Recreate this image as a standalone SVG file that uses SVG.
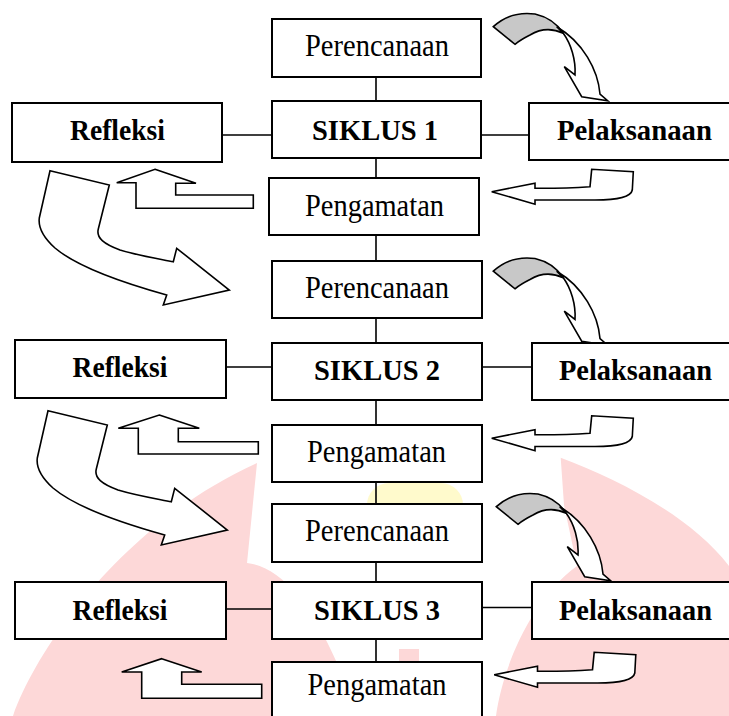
<svg xmlns="http://www.w3.org/2000/svg" xmlns:xlink="http://www.w3.org/1999/xlink" width="729" height="716" viewBox="0 0 729 716">
<style>
.box{fill:#fff;stroke:#000;stroke-width:2}
.t{font-family:"Liberation Serif","Times New Roman",serif;font-size:31px;fill:#000;text-anchor:middle}
.b{font-weight:bold;font-size:30px}
.ln{stroke:#000;stroke-width:1.6;fill:none}
.ar{fill:#fff;stroke:#000;stroke-width:1.6;stroke-linejoin:miter}
.gr{fill:#c8c8c8;stroke:#000;stroke-width:1.6;stroke-linejoin:miter}
.pk{fill:#fdd8d8}
.ye{fill:#fffacc}
</style>
<defs>
<g id="curl">
<path class="gr" d="M493.3,26.7 C505,16 520,12 535,14 C548,17 558,25 563.3,33.3 C552,28 540,29 530,35 C524,38 519,41 515,44.3 Z"/>
<path class="ar" d="M556.7,26.7 C583,42 598,70 600,94 L607.7,100.7 L581.7,96.7 L564.3,66.7 L575,75 C576,60 571,44 563.3,33.3 Z"/>
</g>
<path id="uturn" class="ar" d="M491.7,191.7 L535,183.3 L535,188.3 Q565,188.5 590,186.7 L591.7,169.3 L633.3,171.7 L632.3,190 C631,197 618,200 595,200 L535,200 L535,204.3 Z"/>
<path id="big" class="ar" d="M50,170.7 L109.3,185 L98.3,229 C96,238 104,244 120,250 C140,256 160,259 173.3,261.7 L176.7,248.3 L229.3,290 L163.3,305 L166.7,295 C120,282 75,265 55,248 C44,238 38,228 39.3,218 Z"/>
</defs>
<rect width="729" height="716" fill="#fff"/>
<g id="watermark">
<path class="pk" d="M13,716 C40,640 130,520 257,463 L247,563 C280,566 312,605 337,663 L345,716 Z"/>
<path class="pk" d="M560.7,457.7 C615,478 690,515 729,566 L729,716 L496,716 C502,670 530,600 577,566 L564,505 Z"/>
<rect class="pk" x="399" y="649" width="20" height="30"/>
<rect class="ye" x="367" y="483" width="96" height="60" rx="22"/>
</g>
<g id="connectors">
<path class="ln" d="M376,77V101 M376,158V178 M376,235V261 M376,318V343 M376,400V425 M376,482V504 M376,562V582 M376,639V662"/>
<path class="ln" d="M222,135H272 M481,135H529 M226,367H272 M482,367H532 M226,609H272 M482,607.5H532"/>
<use xlink:href="#curl"/>
<use xlink:href="#curl" transform="translate(0,244.5)"/>
<use xlink:href="#curl" transform="translate(3,480)"/>
<use xlink:href="#uturn"/>
<use xlink:href="#uturn" transform="translate(0,246.5)"/>
<use xlink:href="#uturn" transform="translate(2.5,483)"/>
<use xlink:href="#big"/>
<use xlink:href="#big" transform="translate(-2,240)"/>
<polygon class="ar" points="155,169.3 196,183.3 175.7,183.3 175.7,195 253.3,195 253.3,208.3 136,208.3 136,182.7 116.7,182.7"/>
<polygon class="ar" points="159.3,415 199.3,428.3 178.3,428.3 178.3,441.7 258.3,441.7 258.3,454 138.3,454 138.3,428.3 118.3,428.3"/>
<polygon class="ar" points="161.7,658.7 201.7,672 181.7,672 181.7,684.3 261.7,684.3 261.7,698.3 141.7,698.3 141.7,672 121.7,672"/>
</g>
<g id="perencanaan1"><rect class="box" x="272" y="19" width="209" height="58"/><text class="t" x="377" y="56" textLength="144" lengthAdjust="spacingAndGlyphs">Perencanaan</text></g>
<g id="siklus1"><rect class="box" x="272" y="101" width="209" height="57"/><text class="t b" x="375" y="140" textLength="126" lengthAdjust="spacingAndGlyphs">SIKLUS 1</text></g>
<g id="refleksi1"><rect class="box" x="12" y="103" width="210" height="59"/><text class="t b" x="117.5" y="140" textLength="95" lengthAdjust="spacingAndGlyphs">Refleksi</text></g>
<g id="pelaksanaan1"><rect class="box" x="529" y="103" width="215" height="57"/><text class="t b" x="634.5" y="140" textLength="155" lengthAdjust="spacingAndGlyphs">Pelaksanaan</text></g>
<g id="pengamatan1"><rect class="box" x="269" y="178" width="210" height="57"/><text class="t" x="374.5" y="216" textLength="139" lengthAdjust="spacingAndGlyphs">Pengamatan</text></g>
<g id="perencanaan2"><rect class="box" x="272" y="261" width="210" height="57"/><text class="t" x="377" y="298" textLength="144" lengthAdjust="spacingAndGlyphs">Perencanaan</text></g>
<g id="siklus2"><rect class="box" x="272" y="343" width="210" height="57"/><text class="t b" x="377" y="380" textLength="126" lengthAdjust="spacingAndGlyphs">SIKLUS 2</text></g>
<g id="refleksi2"><rect class="box" x="15" y="340" width="211" height="58"/><text class="t b" x="120" y="377" textLength="95" lengthAdjust="spacingAndGlyphs">Refleksi</text></g>
<g id="pelaksanaan2"><rect class="box" x="532" y="343" width="212" height="57"/><text class="t b" x="635.5" y="380" textLength="153" lengthAdjust="spacingAndGlyphs">Pelaksanaan</text></g>
<g id="pengamatan2"><rect class="box" x="272" y="425" width="210" height="57"/><text class="t" x="376.5" y="462" textLength="139" lengthAdjust="spacingAndGlyphs">Pengamatan</text></g>
<g id="perencanaan3"><rect class="box" x="272" y="504" width="210" height="58"/><text class="t" x="377" y="541" textLength="144" lengthAdjust="spacingAndGlyphs">Perencanaan</text></g>
<g id="siklus3"><rect class="box" x="272" y="582" width="210" height="57"/><text class="t b" x="377" y="620" textLength="126" lengthAdjust="spacingAndGlyphs">SIKLUS 3</text></g>
<g id="refleksi3"><rect class="box" x="15" y="582" width="211" height="57"/><text class="t b" x="120" y="620" textLength="95" lengthAdjust="spacingAndGlyphs">Refleksi</text></g>
<g id="pelaksanaan3"><rect class="box" x="532" y="582" width="212" height="57"/><text class="t b" x="635.5" y="620" textLength="153" lengthAdjust="spacingAndGlyphs">Pelaksanaan</text></g>
<g id="pengamatan3"><rect class="box" x="272" y="662" width="210" height="70"/><text class="t" x="377" y="695" textLength="139" lengthAdjust="spacingAndGlyphs">Pengamatan</text></g>
</svg>
